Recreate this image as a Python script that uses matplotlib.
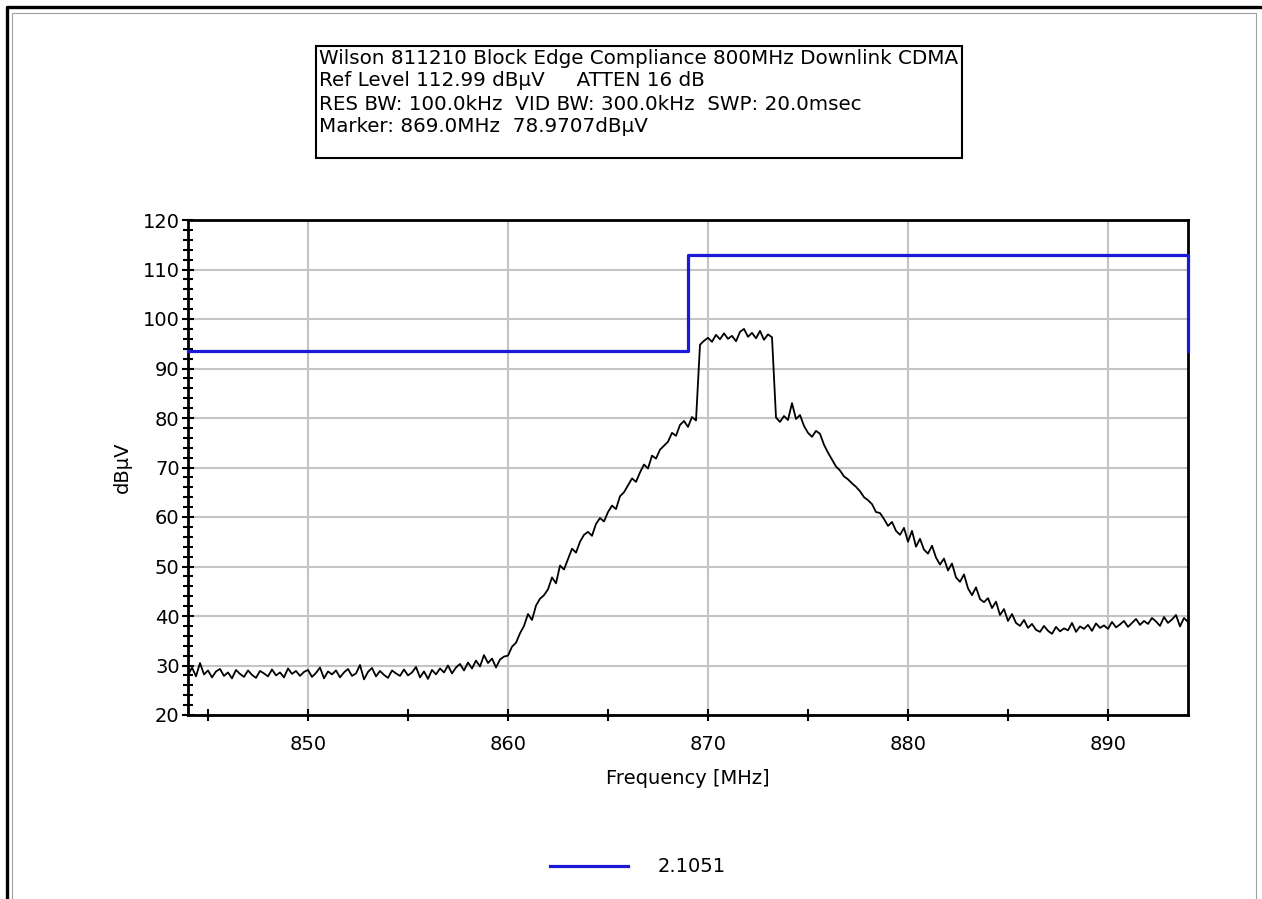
import numpy as np
import matplotlib
matplotlib.use('Agg')
import matplotlib.pyplot as plt
from matplotlib.ticker import MultipleLocator
from matplotlib.patches import Rectangle
from matplotlib.lines import Line2D

# Header box text
header = [
    "Wilson 811210 Block Edge Compliance 800MHz Downlink CDMA",
    "Ref Level 112.99 dBµV     ATTEN 16 dB",
    "RES BW: 100.0kHz  VID BW: 300.0kHz  SWP: 20.0msec",
    "Marker: 869.0MHz  78.9707dBµV",
]

# Limit line (legend "2.1051")
limit_freq = [844.0, 869.0, 869.0, 894.0, 894.0]
limit_level = [93.5, 93.5, 112.99, 112.99, 93.5]
limit_label = "2.1051"

# Measured trace, 0.2 MHz steps from 844 to 894 MHz
trace_level = [
    28.0, 29.6, 27.8, 30.5, 28.2, 29.0, 27.6, 28.8, 29.3, 27.9,
    28.6, 27.4, 29.1, 28.3, 27.7, 29.0, 28.1, 27.5, 28.9, 28.4,
    27.8, 29.2, 28.0, 28.6, 27.6, 29.4, 28.3, 28.9, 27.9, 28.7,
    29.1, 27.7, 28.5, 29.6, 27.4, 28.8, 28.2, 29.0, 27.6, 28.6,
    29.3, 27.9, 28.4, 30.1, 27.2, 28.7, 29.5, 27.8, 28.9, 28.1,
    27.5, 29.0, 28.4, 27.9, 29.2, 28.0, 28.6, 29.7, 27.6, 28.8,
    27.3, 29.1, 28.2, 29.4, 28.6, 30.0, 28.4, 29.6, 30.3, 29.0,
    30.6, 29.4, 31.0, 29.8, 32.1, 30.5, 31.4, 29.6, 31.2, 31.8,
    32.0, 33.8, 34.6, 36.5, 38.0, 40.4, 39.2, 42.1, 43.5, 44.2,
    45.4, 47.8, 46.6, 50.2, 49.4, 51.5, 53.6, 52.8, 55.0, 56.4,
    57.0, 56.2, 58.6, 59.8, 59.1, 61.0, 62.3, 61.6, 64.2, 65.0,
    66.4, 67.8, 67.1, 69.0, 70.6, 69.8, 72.4, 71.8, 73.6, 74.4,
    75.2, 77.0, 76.4, 78.6, 79.4, 78.2, 80.2, 79.5, 94.8, 95.6,
    96.2, 95.4, 96.8, 95.9, 97.1, 96.0, 96.6, 95.5, 97.4, 98.0,
    96.4, 97.2, 96.1, 97.6, 95.8, 96.9, 96.3, 80.1, 79.2, 80.4,
    79.6, 83.0, 79.8, 80.6, 78.4, 77.0, 76.2, 77.4, 76.8, 74.6,
    73.0, 71.6, 70.2, 69.4, 68.2, 67.6, 66.8, 66.1, 65.2, 64.0,
    63.4, 62.6, 61.0, 60.8, 59.6, 58.2, 59.0, 57.2, 56.4, 57.8,
    55.0, 57.2, 54.0, 55.6, 53.4, 52.6, 54.2, 51.8, 50.4, 51.6,
    49.2, 50.6, 47.8, 46.9, 48.4, 45.6, 44.2, 45.8, 43.4, 42.8,
    43.6, 41.6, 42.9, 40.2, 41.4, 39.0, 40.4, 38.6, 38.0, 39.2,
    37.6, 38.4, 37.2, 36.8, 38.0, 37.0, 36.4, 37.8, 36.9, 37.5,
    37.1, 38.6, 36.8, 37.9, 37.4, 38.2, 37.0, 38.5, 37.6, 38.1,
    37.4, 38.8, 37.7, 38.3, 39.0, 37.8, 38.6, 39.4, 38.2, 39.0,
    38.4, 39.6, 38.9, 38.0, 39.8, 38.6, 39.3, 40.2, 37.9, 39.6,
    38.8,
]
trace_freq = np.linspace(844.0, 894.0, len(trace_level))

W, H = 1262, 899
plt.rcParams['font.family'] = ['DejaVu Sans']
fig = plt.figure(figsize=(W / 100, H / 100), dpi=100)


def fx(px):
    return px / W


def fy(py):
    return 1 - py / H


# screenshot frame lines
fig.add_artist(Line2D([fx(7), fx(7), 1.0], [0, fy(7), fy(7)], color='black', lw=2.4))
fig.add_artist(Line2D([fx(12), fx(12), fx(1256), fx(1256)], [0, fy(13), fy(13), 0],
                      color='#a0a0a0', lw=0.8))

ax = fig.add_axes([fx(188), fy(715), 1000 / W, 495 / H])

ax.plot(trace_freq, trace_level, color='black', lw=1.3)
ax.plot(limit_freq, limit_level, color='#1a1ad6', lw=2.3, clip_on=False,
        label=limit_label, zorder=5)

ax.set_xlim(844, 894)
ax.set_ylim(20, 120)
ax.xaxis.set_major_locator(MultipleLocator(10))
ax.xaxis.set_minor_locator(MultipleLocator(5))
ax.yaxis.set_major_locator(MultipleLocator(10))
ax.yaxis.set_minor_locator(MultipleLocator(2))
ax.grid(True, which='major', color='#c4c4c4', lw=1.5)
ax.set_axisbelow(True)
ax.tick_params(which='both', direction='inout', width=1.5, labelsize=14)
ax.tick_params(axis='y', which='major', length=8, pad=2)
ax.tick_params(axis='y', which='minor', length=7)
ax.tick_params(axis='x', which='both', length=9, pad=10)
for s in ax.spines.values():
    s.set_linewidth(2)
    s.set_color('black')

ax.set_xlabel("Frequency [MHz]", fontsize=14, labelpad=11)
ax.set_ylabel("dBµV", fontsize=14, labelpad=8)

leg = ax.legend(loc='center', bbox_to_anchor=(fx(638), fy(867)),
                bbox_transform=fig.transFigure, frameon=False, fontsize=14,
                handlelength=4.0, handletextpad=1.5)

# header box
for k, line in enumerate(header):
    fig.text(fx(319), fy(58 + 23 * k), line, fontsize=14.3, va='center', ha='left')
fig.add_artist(Rectangle((fx(316), fy(158)), (962 - 316) / W, 112 / H,
                         transform=fig.transFigure, fill=False, ec='black', lw=1.5))

fig.savefig('out.png', dpi=100)
